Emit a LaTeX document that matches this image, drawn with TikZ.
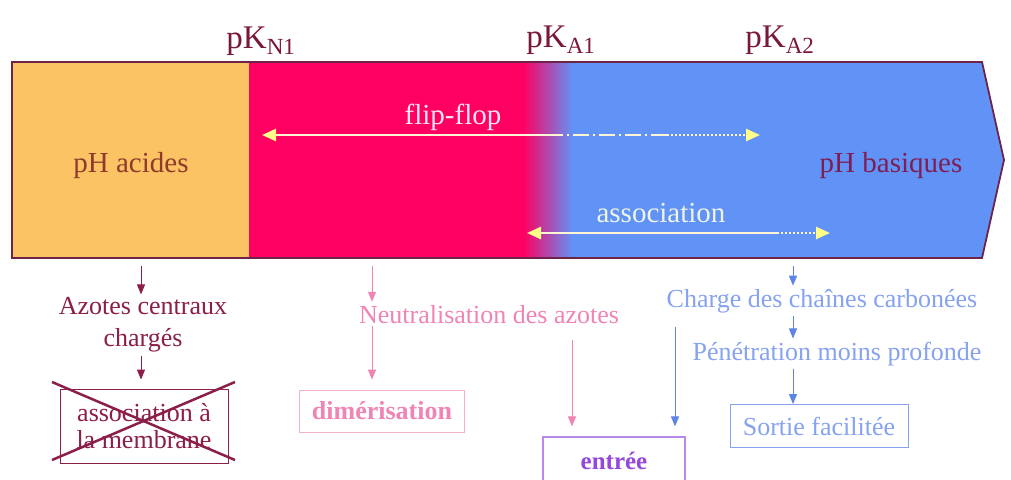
\documentclass[tikz,border=0pt]{standalone}
\usepackage{fontspec}
\setmainfont{Liberation Serif}
\usetikzlibrary{arrows.meta}

\definecolor{barorange}{HTML}{FBC363}
\definecolor{barred}{HTML}{FF0062}
\definecolor{barblue}{HTML}{6193F7}
\definecolor{baredge}{HTML}{6E2348}
\definecolor{pktext}{HTML}{7A1838}
\definecolor{acidtext}{HTML}{8E3A2C}
\definecolor{basictext}{HTML}{7E1E55}
\definecolor{fliptext}{HTML}{FFE6F0}
\definecolor{assoctext}{HTML}{EEF4E4}
\definecolor{ffline}{HTML}{FFF4D6}
\definecolor{fftip}{HTML}{FFFF8A}
\definecolor{azote}{HTML}{8C1E4A}
\definecolor{neutr}{HTML}{F084B4}
\definecolor{neutrbox}{HTML}{F4B0CC}
\definecolor{chaine}{HTML}{86A2F0}
\definecolor{chainearrow}{HTML}{5E84E8}
\definecolor{entree}{HTML}{9448DC}
\definecolor{entreebox}{HTML}{B98AEA}

\tikzset{
	bigtext/.style={font=\fontsize{29}{34}\selectfont, inner sep=0pt, anchor=base},
	pklabel/.style={font=\fontsize{33}{38}\selectfont, text=pktext, inner sep=0pt, anchor=base},
	smalltext/.style={font=\fontsize{26}{32}\selectfont, inner sep=3pt},
	flipline/.style={line width=2.5pt, draw=ffline, >={Stealth[length=14pt,width=12pt,inset=0pt,color=fftip]}},
	downarrow/.style={line width=1pt, -{Stealth[length=10pt,width=8pt,inset=0pt]}}
}

\begin{document}
\begin{tikzpicture}[x=1pt, y=-1pt]
		\fill[white] (0,0) rectangle (1011,479);
		\useasboundingbox (0,0) rectangle (1011,479);

		% the pH bar
		\fill[barorange] (12,62) rectangle (249,258);
		\fill[barred] (249,62) rectangle (524,258);
		\shade[left color=barred, right color=barblue] (523,62) rectangle (573,258);
		\fill[barblue] (572,62) -- (982,62) -- (1004,160) -- (982,258) -- (572,258) -- cycle;
		\draw[baredge, line width=1.8pt] (12,62) -- (982,62) -- (1004,160) -- (982,258) -- (12,258) -- cycle;

		\node[pklabel] (pkn1) at (261,48) {pK\textsubscript{N1}};
		\node[pklabel] (pka1) at (561,47) {pK\textsubscript{A1}};
		\node[pklabel] (pka2) at (780,47) {pK\textsubscript{A2}};

		\node[bigtext, text=acidtext] (acid) at (131,172) {pH acides};
		\node[bigtext, text=basictext] (basic) at (891,172) {pH basiques};
		\node[bigtext, text=fliptext] (flip) at (453,124) {flip-flop};
		\node[bigtext, text=assoctext] (assoc) at (661,222) {association};

		% flip-flop and association ranges
		\coordinate (ffA) at (262,135);
		\coordinate (ffB) at (547,135);
		\coordinate (ffC) at (667,135);
		\coordinate (ffD) at (760,135);
		\draw[flipline, <-] (ffA) -- (ffB);
		\draw[flipline, dash pattern=on 16pt off 4pt on 2pt off 4pt] (ffB) -- (ffC);
		\draw[flipline, dash pattern=on 2pt off 2pt, ->] (ffC) -- (ffD);

		\coordinate (asA) at (527,233);
		\coordinate (asB) at (777,233);
		\coordinate (asC) at (830,233);
		\draw[flipline, <-] (asA) -- (asB);
		\draw[flipline, dash pattern=on 2pt off 2pt, ->] (asB) -- (asC);

		% below the bar
		\node[smalltext, text=azote, align=center] (azote) at (143,325) {Azotes centraux\\chargés};
		\node[draw=azote, line width=0.8pt, text=azote, align=center, inner sep=3pt,
			font=\fontsize{26}{27}\selectfont, minimum width=168pt, minimum height=74pt] (membrane) at (144,426) {association à\\la membrane};
		\draw[azote, line width=2.5pt] (52,382) -- (235,460);
		\draw[azote, line width=2.5pt] (52,460) -- (235,382);

		\node[smalltext, text=neutr, anchor=base] (neutr) at (489,323) {Neutralisation des azotes};
		\node[draw=neutrbox, line width=0.8pt, text=neutr, font=\fontsize{26}{32}\selectfont\bfseries,
			minimum width=165pt, minimum height=42pt] (dimer) at (382,411) {dimérisation};

		\node[draw=entreebox, line width=1.2pt, text=entree, font=\fontsize{25}{30}\selectfont\bfseries,
			minimum width=142pt, minimum height=48pt] (entree) at (614,461) {entrée};

		\node[smalltext, text=chaine, anchor=base] (charge) at (822,307) {Charge des chaînes carbonées};
		\node[smalltext, text=chaine, anchor=base] (pene) at (837,360) {Pénétration moins profonde};
		\node[draw=chaine, line width=0.8pt, text=chaine, font=\fontsize{26}{32}\selectfont,
			minimum width=178pt, minimum height=43pt] (sortie) at (819,426) {Sortie facilitée};

		\coordinate (acidcol) at (141,266);
		\coordinate (pinkcol) at (372,266);
		\coordinate (bluecol) at (793,266);
		\coordinate (pinkin) at (572,340);
		\coordinate (bluein) at (675,327);

		\draw[downarrow, azote] (acidcol) -- (acidcol |- azote.north);
		\draw[downarrow, azote, shorten >=9pt] (azote.south -| acidcol) -- (membrane.north -| acidcol);

		\draw[downarrow, neutr] (pinkcol) -- (pinkcol |- neutr.north);
		\draw[downarrow, neutr, shorten >=10pt] (neutr.south -| pinkcol) -- (dimer.north -| pinkcol);
		\draw[downarrow, neutr, shorten >=10pt] (pinkin) -- (pinkin |- entree.north);

		\draw[downarrow, chainearrow, shorten >=10pt] (bluein) -- (bluein |- entree.north);
		\draw[downarrow, chainearrow] (bluecol) -- (bluecol |- charge.north);
		\draw[downarrow, chainearrow] (charge.south -| bluecol) -- (pene.north -| bluecol);
		\draw[downarrow, chainearrow] (pene.south -| bluecol) -- (sortie.north -| bluecol);
	\end{tikzpicture}
\end{document}
